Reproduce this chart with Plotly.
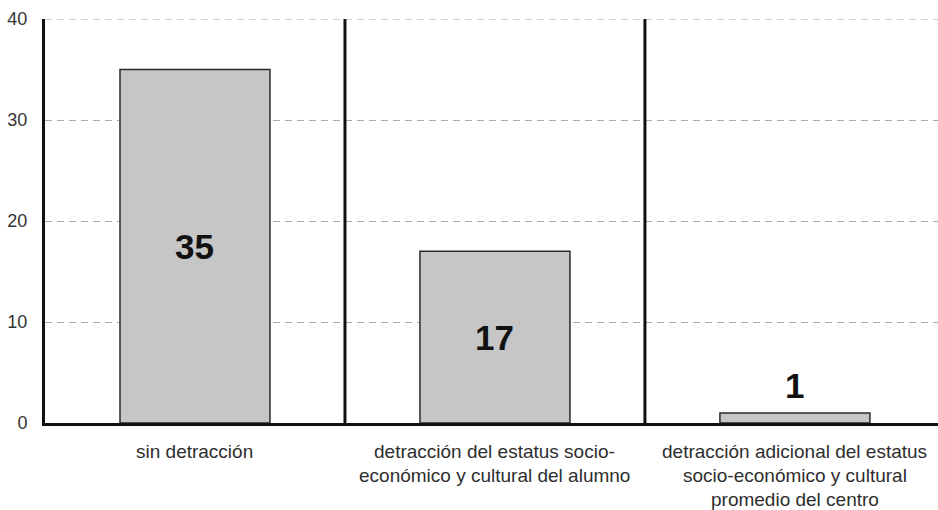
import plotly.graph_objects as go

categories = [
    "sin detracción",
    "detracción del estatus socio-<br>económico y cultural del alumno",
    "detracción adicional del estatus<br>socio-económico y cultural<br>promedio del centro",
]
values = [35, 17, 1]
y_ticks = [0, 10, 20, 30, 40]

x_pos = list(range(len(categories)))
FONT = "Liberation Sans, Arial"
GRID_DASH = "7px,5px"

fig = go.Figure()
fig.add_trace(go.Bar(
    x=x_pos,
    y=values,
    width=0.5,
    marker=dict(color="#c6c6c6", line=dict(color="#2a2a2a", width=1.5)),
    hoverinfo="skip",
))

# value labels: centred inside tall bars, just above short ones
for xi, v in zip(x_pos, values):
    inside = v >= 5
    fig.add_annotation(
        x=xi, y=v / 2 if inside else v,
        text=f"<b>{v}</b>", showarrow=False,
        yanchor="middle" if inside else "bottom",
        yshift=0 if inside else 6,
        font=dict(family=FONT, size=35, color="#111111"),
    )

# category labels, one annotation per line for wider line spacing
for xi, label in zip(x_pos, categories):
    for i, line in enumerate(label.split("<br>")):
        fig.add_annotation(
            x=xi, xref="x", y=0, yref="paper",
            text=line, showarrow=False,
            yanchor="middle", yshift=-28 - 24 * i,
            font=dict(family=FONT, size=19, color="#2e2e2e"),
        )

# top gridline at the axis maximum
fig.add_shape(type="line", xref="paper", yref="y", x0=0, x1=1,
              y0=max(y_ticks), y1=max(y_ticks),
              line=dict(color="#aaaaaa", width=1, dash=GRID_DASH), layer="below")

# vertical separators between categories
for sep in [0.5, 1.5]:
    fig.add_shape(type="line", xref="x", yref="y", x0=sep, x1=sep, y0=0, y1=max(y_ticks),
                  line=dict(color="#111111", width=3), layer="above")

fig.update_layout(
    width=938, height=510,
    margin=dict(l=45, r=0, t=19, b=87),
    paper_bgcolor="white", plot_bgcolor="white",
    showlegend=False,
    font=dict(family=FONT, color="#333333"),
    bargap=0.5,
)
fig.update_xaxes(
    range=[-0.5, 2.477],
    tickmode="array", tickvals=x_pos, ticktext=[""] * len(x_pos),
    showline=True, linecolor="#111111", linewidth=3,
    showgrid=False, ticks="",
)
fig.update_yaxes(
    range=[0, max(y_ticks)],
    tickmode="array", tickvals=y_ticks,
    tickfont=dict(size=18, color="#333333"),
    showline=True, linecolor="#111111", linewidth=3,
    showgrid=True, gridcolor="#aaaaaa", griddash=GRID_DASH, gridwidth=1,
    zeroline=False, ticks="", ticklabelstandoff=11,
)

fig.write_html("out.html")
